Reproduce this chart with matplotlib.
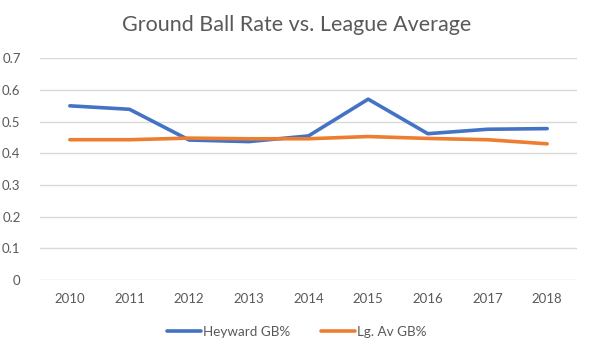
import matplotlib
matplotlib.use('Agg')
import matplotlib.pyplot as plt

# values
years = ['2010', '2011', '2012', '2013', '2014', '2015', '2016', '2017', '2018']
heyward_gb = [0.550, 0.539, 0.442, 0.437, 0.455, 0.571, 0.462, 0.476, 0.478]
league_gb = [0.443, 0.443, 0.448, 0.446, 0.446, 0.453, 0.447, 0.443, 0.430]
y_ticks = [0, 0.1, 0.2, 0.3, 0.4, 0.5, 0.6, 0.7]

plt.rcParams['font.family'] = ['Lato', 'DejaVu Sans']
grey = '#595959'

fig = plt.figure(figsize=(5.93, 3.59), dpi=100)
ax = fig.add_axes([0.0675, 0.22, 0.9055, 0.6176])

x = range(len(years))
ax.plot(x, heyward_gb, color='#4472C4', lw=2.6, label='Heyward GB%', solid_capstyle='round')
ax.plot(x, league_gb, color='#ED7D31', lw=2.6, label='Lg. Av GB%', solid_capstyle='round')

ax.set_xlim(-0.5, len(years) - 0.5)
ax.set_ylim(0, 0.7)
ax.set_xticks(list(x))
ax.set_xticklabels(years)
ax.set_yticks(y_ticks)
ax.set_yticklabels([f'{t:g}' for t in y_ticks])
ax.tick_params(length=0, colors=grey, labelsize=9.5)
ax.tick_params(axis='y', pad=14)
ax.tick_params(axis='x', pad=9)
ax.grid(axis='y', color='#D9D9D9', lw=1)
ax.set_axisbelow(True)
for s in ax.spines.values():
    s.set_visible(False)

fig.text(0.5, 0.93, 'Ground Ball Rate vs. League Average', ha='center', va='center',
         fontsize=15.5, color=grey)
fig.legend(loc='center', bbox_to_anchor=(0.5, 0.075), ncol=2, frameon=False,
           fontsize=9.7, labelcolor=grey, handlelength=2.5, handletextpad=0.15,
           columnspacing=2.3)

fig.savefig('out.png', dpi=100)
